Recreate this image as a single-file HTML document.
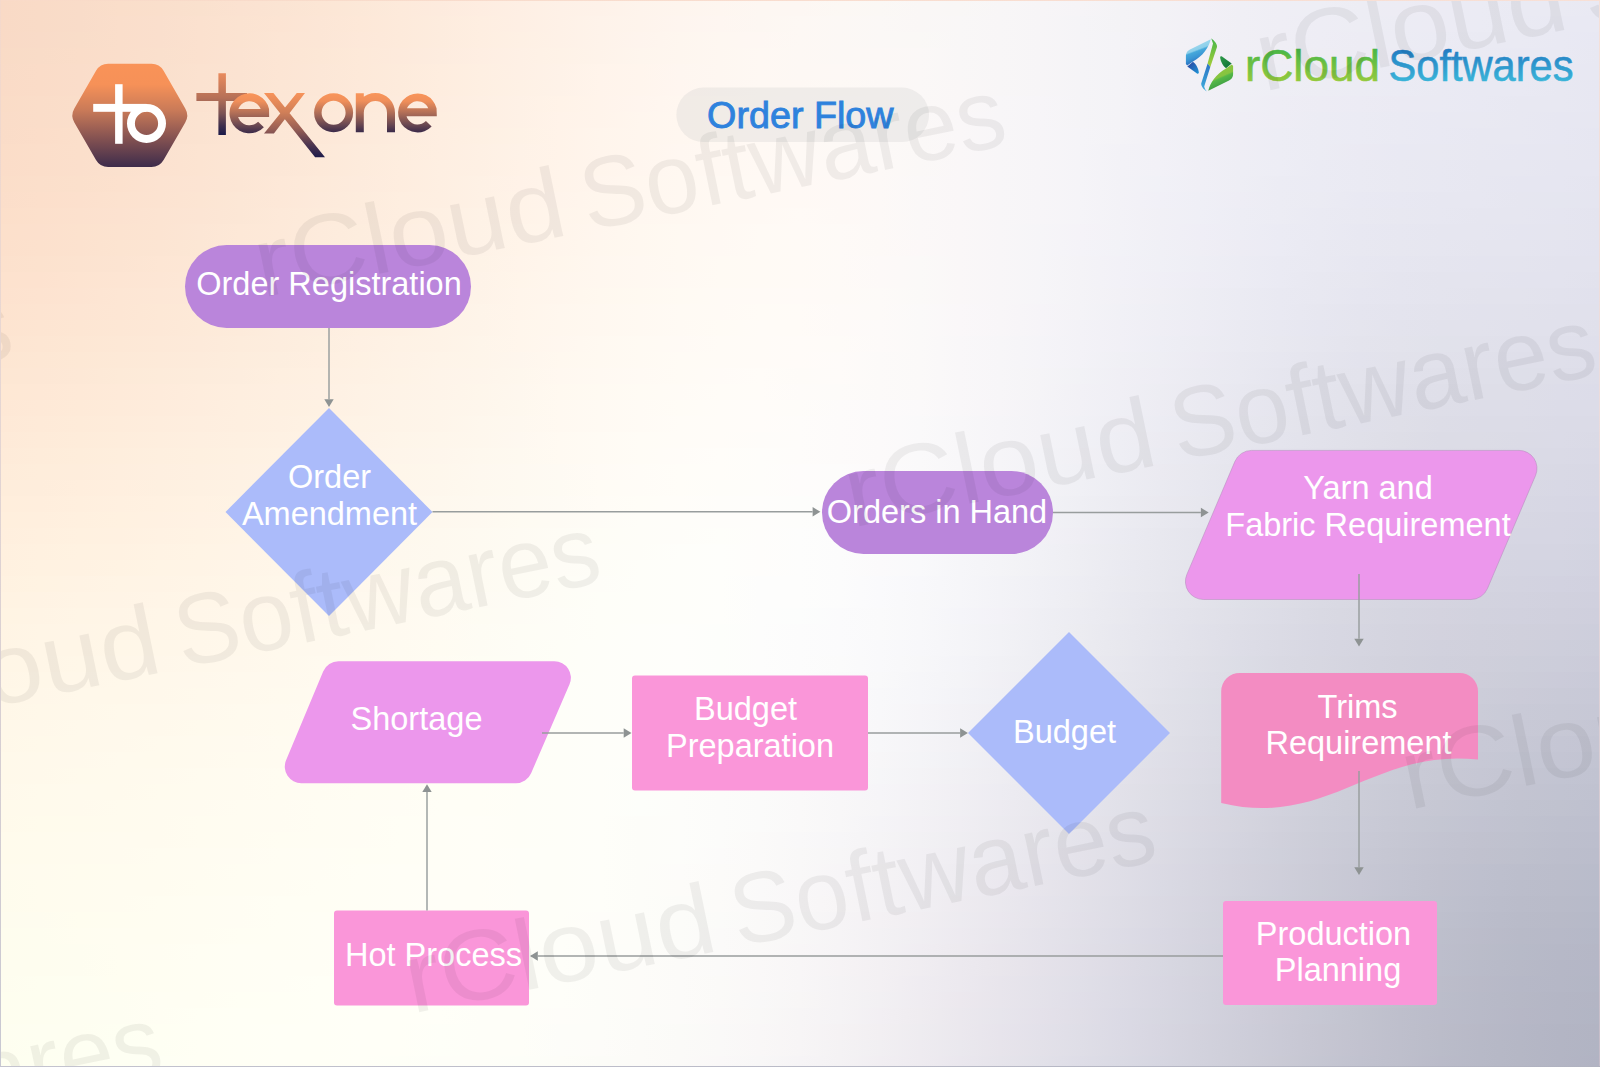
<!DOCTYPE html>
<html><head><meta charset="utf-8"><title>Order Flow</title>
<style>
html,body{margin:0;padding:0;}
body{width:1600px;height:1067px;overflow:hidden;font-family:"Liberation Sans",sans-serif;}
#bg{position:absolute;left:0;top:0;width:1600px;height:1067px;background:linear-gradient(90deg,#f9dac6 0px,#f9dbc7 40px,#f9dcc9 80px,#fadeca 120px,#fadfcc 160px,#fae1ce 200px,#fbe2d1 240px,#fbe4d3 280px,#fce6d5 320px,#fce8d8 360px,#fdeadb 400px,#fdebde 440px,#feede1 480px,#feefe4 520px,#fef1e7 560px,#fef2e9 600px,#fef4ec 640px,#fef5ee 680px,#fef6f0 720px,#fdf7f2 760px,#fdf7f3 800px,#fcf8f4 840px,#fbf8f5 880px,#faf7f6 920px,#f9f7f6 960px,#f8f6f7 1000px,#f7f5f7 1040px,#f6f4f7 1080px,#f4f3f6 1120px,#f3f2f6 1160px,#f2f0f6 1200px,#f0eff5 1240px,#efeef5 1280px,#eeeef5 1320px,#ededf4 1360px,#edecf4 1400px,#ecebf4 1440px,#ebebf4 1480px,#eaeaf3 1520px,#eaeaf3 1560px,#e9e9f3 1600px) 0 0px/1600px 16px no-repeat,
linear-gradient(90deg,#f9dac6 0px,#f9dbc7 40px,#f9dcc9 80px,#fadecb 120px,#fadfcd 160px,#fbe1cf 200px,#fbe3d1 240px,#fce4d3 280px,#fce6d6 320px,#fde8d8 360px,#fdeadb 400px,#fdecde 440px,#feeee1 480px,#feefe4 520px,#fef1e7 560px,#fef3ea 600px,#fef4ec 640px,#fef5ef 680px,#fef6f1 720px,#fdf7f2 760px,#fdf8f4 800px,#fcf8f5 840px,#fbf8f6 880px,#faf7f6 920px,#f9f7f7 960px,#f8f6f7 1000px,#f7f5f7 1040px,#f5f4f7 1080px,#f4f3f6 1120px,#f3f2f6 1160px,#f2f0f6 1200px,#f0eff5 1240px,#efeef5 1280px,#eeedf5 1320px,#ededf4 1360px,#ececf4 1400px,#ecebf4 1440px,#ebebf4 1480px,#eaeaf3 1520px,#e9e9f3 1560px,#e9e9f3 1600px) 0 16px/1600px 16px no-repeat,
linear-gradient(90deg,#f9dac6 0px,#f9dbc8 40px,#f9ddc9 80px,#fadecb 120px,#fadfcd 160px,#fbe1cf 200px,#fbe3d1 240px,#fce5d4 280px,#fce6d6 320px,#fde8d9 360px,#fdeadb 400px,#fdecde 440px,#feeee1 480px,#fef0e4 520px,#fef1e7 560px,#fef3ea 600px,#fef4ed 640px,#fef6ef 680px,#fef7f1 720px,#fef7f3 760px,#fdf8f4 800px,#fcf8f5 840px,#fbf8f6 880px,#faf8f6 920px,#f9f7f7 960px,#f8f6f7 1000px,#f7f5f7 1040px,#f5f4f7 1080px,#f4f3f7 1120px,#f3f2f6 1160px,#f1f0f6 1200px,#f0eff5 1240px,#efeef5 1280px,#eeedf5 1320px,#edecf4 1360px,#ececf4 1400px,#ebebf4 1440px,#eaeaf3 1480px,#eaeaf3 1520px,#e9e9f3 1560px,#e8e8f3 1600px) 0 32px/1600px 16px no-repeat,
linear-gradient(90deg,#f9dbc6 0px,#f9dcc8 40px,#faddc9 80px,#fadecb 120px,#fae0cd 160px,#fbe1cf 200px,#fbe3d2 240px,#fce5d4 280px,#fce7d6 320px,#fde9d9 360px,#fdeadc 400px,#fdecdf 440px,#feeee2 480px,#fef0e5 520px,#fef2e7 560px,#fef3ea 600px,#fef5ed 640px,#fef6ef 680px,#fef7f1 720px,#fef8f3 760px,#fdf8f4 800px,#fcf8f5 840px,#fcf8f6 880px,#fbf8f7 920px,#f9f7f7 960px,#f8f6f7 1000px,#f7f5f7 1040px,#f5f4f7 1080px,#f4f3f7 1120px,#f3f1f6 1160px,#f1f0f6 1200px,#f0eff5 1240px,#efeef5 1280px,#eeedf4 1320px,#edecf4 1360px,#ecebf4 1400px,#ebebf4 1440px,#eaeaf3 1480px,#e9e9f3 1520px,#e9e9f3 1560px,#e8e8f2 1600px) 0 48px/1600px 16px no-repeat,
linear-gradient(90deg,#f9dbc7 0px,#fadcc8 40px,#faddca 80px,#fadfcc 120px,#fae0cd 160px,#fbe2d0 200px,#fbe3d2 240px,#fce5d4 280px,#fce7d7 320px,#fde9d9 360px,#fdebdc 400px,#feeddf 440px,#feefe2 480px,#fef0e5 520px,#fef2e8 560px,#fff4eb 600px,#fff5ed 640px,#fef6f0 680px,#fef7f1 720px,#fef8f3 760px,#fdf8f4 800px,#fdf8f5 840px,#fcf8f6 880px,#fbf8f7 920px,#f9f7f7 960px,#f8f6f7 1000px,#f7f5f7 1040px,#f5f4f7 1080px,#f4f3f7 1120px,#f2f1f6 1160px,#f1f0f6 1200px,#f0eff5 1240px,#eeeef5 1280px,#ededf4 1320px,#ececf4 1360px,#ebebf4 1400px,#ebeaf3 1440px,#eaeaf3 1480px,#e9e9f3 1520px,#e8e8f3 1560px,#e8e8f2 1600px) 0 64px/1600px 16px no-repeat,
linear-gradient(90deg,#fadbc7 0px,#fadcc8 40px,#faddca 80px,#fadfcc 120px,#fbe0ce 160px,#fbe2d0 200px,#fbe4d2 240px,#fce6d5 280px,#fce7d7 320px,#fde9da 360px,#fdebdc 400px,#feeddf 440px,#feefe2 480px,#fef1e5 520px,#fef2e8 560px,#fff4eb 600px,#fff5ed 640px,#fff6f0 680px,#fef7f2 720px,#fef8f3 760px,#fef8f4 800px,#fdf9f5 840px,#fcf8f6 880px,#fbf8f7 920px,#faf7f7 960px,#f8f6f7 1000px,#f7f5f7 1040px,#f5f4f7 1080px,#f4f3f7 1120px,#f2f1f6 1160px,#f1f0f6 1200px,#efeff5 1240px,#eeeef5 1280px,#ededf4 1320px,#ececf4 1360px,#ebebf4 1400px,#eaeaf3 1440px,#e9e9f3 1480px,#e9e9f3 1520px,#e8e8f2 1560px,#e7e7f2 1600px) 0 80px/1600px 16px no-repeat,
linear-gradient(90deg,#fadcc7 0px,#faddc9 40px,#fadeca 80px,#fadfcc 120px,#fbe1ce 160px,#fbe2d0 200px,#fce4d3 240px,#fce6d5 280px,#fce8d8 320px,#fdeada 360px,#fdebdd 400px,#feede0 440px,#feefe3 480px,#fef1e6 520px,#fff3e8 560px,#fff4eb 600px,#fff5ee 640px,#fff7f0 680px,#fff8f2 720px,#fef8f3 760px,#fef9f5 800px,#fdf9f6 840px,#fcf8f6 880px,#fbf8f7 920px,#faf7f7 960px,#f8f6f8 1000px,#f7f5f8 1040px,#f5f4f7 1080px,#f4f3f7 1120px,#f2f1f7 1160px,#f1f0f6 1200px,#efeff5 1240px,#eeedf5 1280px,#edecf4 1320px,#ecebf4 1360px,#ebeaf3 1400px,#eaeaf3 1440px,#e9e9f3 1480px,#e8e8f2 1520px,#e8e8f2 1560px,#e7e7f2 1600px) 0 96px/1600px 16px no-repeat,
linear-gradient(90deg,#fadcc8 0px,#faddc9 40px,#fadecb 80px,#fbe0cd 120px,#fbe1cf 160px,#fbe3d1 200px,#fce4d3 240px,#fce6d5 280px,#fde8d8 320px,#fdeadb 360px,#fdecdd 400px,#feeee0 440px,#feefe3 480px,#fef1e6 520px,#fff3e9 560px,#fff4eb 600px,#fff6ee 640px,#fff7f0 680px,#fff8f2 720px,#fef8f3 760px,#fef9f5 800px,#fdf9f6 840px,#fcf9f7 880px,#fbf8f7 920px,#faf7f8 960px,#f8f6f8 1000px,#f7f5f8 1040px,#f5f4f7 1080px,#f4f3f7 1120px,#f2f1f7 1160px,#f1f0f6 1200px,#efeef5 1240px,#eeedf5 1280px,#ececf4 1320px,#ebebf4 1360px,#eaeaf3 1400px,#e9e9f3 1440px,#e9e9f2 1480px,#e8e8f2 1520px,#e7e7f2 1560px,#e7e7f1 1600px) 0 112px/1600px 16px no-repeat,
linear-gradient(90deg,#fadcc8 0px,#fbddc9 40px,#fbdfcb 80px,#fbe0cd 120px,#fbe1cf 160px,#fbe3d1 200px,#fce5d4 240px,#fce7d6 280px,#fde8d8 320px,#fdeadb 360px,#fdecde 400px,#feeee1 440px,#fef0e3 480px,#fef2e6 520px,#fff3e9 560px,#fff5ec 600px,#fff6ee 640px,#fff7f0 680px,#fff8f2 720px,#fff9f4 760px,#fef9f5 800px,#fdf9f6 840px,#fcf9f7 880px,#fbf8f7 920px,#faf7f8 960px,#f8f6f8 1000px,#f7f5f8 1040px,#f5f4f8 1080px,#f4f3f7 1120px,#f2f1f7 1160px,#f0f0f6 1200px,#efeef5 1240px,#ededf5 1280px,#ececf4 1320px,#ebebf4 1360px,#eaeaf3 1400px,#e9e9f3 1440px,#e8e8f2 1480px,#e8e8f2 1520px,#e7e7f2 1560px,#e6e6f1 1600px) 0 128px/1600px 16px no-repeat,
linear-gradient(90deg,#fbddc8 0px,#fbdeca 40px,#fbdfcb 80px,#fbe0cd 120px,#fbe2d0 160px,#fce4d2 200px,#fce5d4 240px,#fce7d6 280px,#fde9d9 320px,#fdebdc 360px,#fdedde 400px,#feeee1 440px,#fef0e4 480px,#fef2e7 520px,#fff3e9 560px,#fff5ec 600px,#fff6ee 640px,#fff7f1 680px,#fff8f2 720px,#fff9f4 760px,#fef9f5 800px,#fdf9f6 840px,#fcf9f7 880px,#fbf8f7 920px,#faf7f8 960px,#f8f6f8 1000px,#f7f5f8 1040px,#f5f4f8 1080px,#f3f2f7 1120px,#f2f1f7 1160px,#f0f0f6 1200px,#efeef5 1240px,#ededf5 1280px,#ececf4 1320px,#ebeaf3 1360px,#e9e9f3 1400px,#e9e9f2 1440px,#e8e8f2 1480px,#e7e7f2 1520px,#e7e7f1 1560px,#e6e6f1 1600px) 0 144px/1600px 16px no-repeat,
linear-gradient(90deg,#fbddc9 0px,#fbdeca 40px,#fbdfcc 80px,#fbe1ce 120px,#fce2d0 160px,#fce4d2 200px,#fce6d5 240px,#fce7d7 280px,#fde9d9 320px,#fdebdc 360px,#feeddf 400px,#feefe2 440px,#fef0e4 480px,#fff2e7 520px,#fff4ea 560px,#fff5ec 600px,#fff6ef 640px,#fff8f1 680px,#fff8f2 720px,#fff9f4 760px,#fef9f5 800px,#fef9f6 840px,#fdf9f7 880px,#fbf8f7 920px,#faf7f8 960px,#f8f6f8 1000px,#f7f5f8 1040px,#f5f4f8 1080px,#f3f2f7 1120px,#f2f1f7 1160px,#f0eff6 1200px,#eeeef5 1240px,#ededf5 1280px,#ebebf4 1320px,#eaeaf3 1360px,#e9e9f2 1400px,#e8e8f2 1440px,#e7e7f1 1480px,#e7e7f1 1520px,#e6e6f1 1560px,#e6e6f1 1600px) 0 160px/1600px 16px no-repeat,
linear-gradient(90deg,#fbdec9 0px,#fbdfcb 40px,#fbe0cc 80px,#fce1ce 120px,#fce3d1 160px,#fce4d3 200px,#fce6d5 240px,#fde8d8 280px,#fdeada 320px,#fdebdd 360px,#feeddf 400px,#feefe2 440px,#fef1e5 480px,#fff2e8 520px,#fff4ea 560px,#fff5ed 600px,#fff7ef 640px,#fff8f1 680px,#fff9f3 720px,#fff9f4 760px,#fff9f5 800px,#fef9f6 840px,#fdf9f7 880px,#fbf8f8 920px,#faf7f8 960px,#f8f6f8 1000px,#f7f5f8 1040px,#f5f4f8 1080px,#f3f2f7 1120px,#f1f1f7 1160px,#f0eff6 1200px,#eeeef5 1240px,#ececf4 1280px,#ebebf4 1320px,#eaeaf3 1360px,#e9e9f2 1400px,#e8e8f2 1440px,#e7e7f1 1480px,#e6e6f1 1520px,#e6e6f1 1560px,#e5e5f0 1600px) 0 176px/1600px 16px no-repeat,
linear-gradient(90deg,#fbdeca 0px,#fcdfcb 40px,#fce0cd 80px,#fce2cf 120px,#fce3d1 160px,#fce5d3 200px,#fce7d6 240px,#fde8d8 280px,#fdeadb 320px,#fdecdd 360px,#feeee0 400px,#feefe2 440px,#fef1e5 480px,#fff3e8 520px,#fff4eb 560px,#fff6ed 600px,#fff7ef 640px,#fff8f1 680px,#fff9f3 720px,#fff9f4 760px,#fff9f5 800px,#fef9f6 840px,#fdf9f7 880px,#fbf8f8 920px,#faf7f8 960px,#f8f6f8 1000px,#f7f5f8 1040px,#f5f4f8 1080px,#f3f2f7 1120px,#f1f0f7 1160px,#efeff6 1200px,#eeedf5 1240px,#ececf4 1280px,#ebebf3 1320px,#e9e9f3 1360px,#e8e8f2 1400px,#e7e7f1 1440px,#e7e7f1 1480px,#e6e6f0 1520px,#e5e6f0 1560px,#e5e5f0 1600px) 0 192px/1600px 16px no-repeat,
linear-gradient(90deg,#fcdfca 0px,#fce0cc 40px,#fce1ce 80px,#fce2d0 120px,#fce4d2 160px,#fce5d4 200px,#fce7d6 240px,#fde9d9 280px,#fdebdb 320px,#fdecde 360px,#feeee0 400px,#fef0e3 440px,#fef2e6 480px,#fff3e8 520px,#fff5eb 560px,#fff6ed 600px,#fff7f0 640px,#fff8f1 680px,#fff9f3 720px,#fff9f4 760px,#fffaf6 800px,#fef9f6 840px,#fdf9f7 880px,#fbf8f8 920px,#faf7f8 960px,#f8f6f8 1000px,#f7f5f8 1040px,#f5f4f8 1080px,#f3f2f7 1120px,#f1f0f6 1160px,#efeff6 1200px,#ededf5 1240px,#ececf4 1280px,#eaeaf3 1320px,#e9e9f2 1360px,#e8e8f1 1400px,#e7e7f1 1440px,#e6e6f0 1480px,#e6e6f0 1520px,#e5e5f0 1560px,#e4e4ef 1600px) 0 208px/1600px 16px no-repeat,
linear-gradient(90deg,#fce0cb 0px,#fce0cd 40px,#fce2ce 80px,#fce3d0 120px,#fce4d2 160px,#fce6d5 200px,#fde8d7 240px,#fde9d9 280px,#fdebdc 320px,#fdedde 360px,#feeee1 400px,#fef0e4 440px,#fef2e6 480px,#fff4e9 520px,#fff5eb 560px,#fff6ee 600px,#fff8f0 640px,#fff9f2 680px,#fff9f3 720px,#fffaf5 760px,#fffaf6 800px,#fefaf7 840px,#fdf9f7 880px,#fbf8f8 920px,#faf7f8 960px,#f8f6f8 1000px,#f6f5f8 1040px,#f5f3f8 1080px,#f3f2f7 1120px,#f1f0f6 1160px,#efeef6 1200px,#ededf5 1240px,#ebebf4 1280px,#eaeaf3 1320px,#e8e8f2 1360px,#e7e7f1 1400px,#e6e6f0 1440px,#e6e6f0 1480px,#e5e5f0 1520px,#e5e5ef 1560px,#e4e4ef 1600px) 0 224px/1600px 16px no-repeat,
linear-gradient(90deg,#fce0cc 0px,#fce1cd 40px,#fce2cf 80px,#fce4d1 120px,#fce5d3 160px,#fce7d5 200px,#fde8d8 240px,#fdeada 280px,#fdecdc 320px,#fdeddf 360px,#feefe1 400px,#fef1e4 440px,#fef2e7 480px,#fff4e9 520px,#fff5ec 560px,#fff7ee 600px,#fff8f0 640px,#fff9f2 680px,#fff9f4 720px,#fffaf5 760px,#fffaf6 800px,#fefaf7 840px,#fdf9f7 880px,#fcf8f8 920px,#faf7f8 960px,#f8f6f8 1000px,#f6f5f8 1040px,#f4f3f8 1080px,#f2f2f7 1120px,#f0f0f6 1160px,#efeef5 1200px,#edecf4 1240px,#ebebf4 1280px,#e9e9f2 1320px,#e8e8f1 1360px,#e7e7f0 1400px,#e6e6f0 1440px,#e5e5ef 1480px,#e5e5ef 1520px,#e4e4ef 1560px,#e3e3ef 1600px) 0 240px/1600px 16px no-repeat,
linear-gradient(90deg,#fce1cd 0px,#fce2ce 40px,#fce3d0 80px,#fce4d2 120px,#fde6d4 160px,#fde7d6 200px,#fde9d8 240px,#fdeadb 280px,#fdecdd 320px,#fdeedf 360px,#feefe2 400px,#fef1e5 440px,#fef3e7 480px,#fff4ea 520px,#fff6ec 560px,#fff7ef 600px,#fff8f1 640px,#fff9f2 680px,#fffaf4 720px,#fffaf5 760px,#fffaf6 800px,#fefaf7 840px,#fdf9f8 880px,#fbf9f8 920px,#faf7f8 960px,#f8f6f8 1000px,#f6f5f8 1040px,#f4f3f7 1080px,#f2f1f7 1120px,#f0f0f6 1160px,#eeeef5 1200px,#ececf4 1240px,#eaeaf3 1280px,#e9e9f2 1320px,#e7e7f1 1360px,#e6e6f0 1400px,#e5e5ef 1440px,#e4e4ef 1480px,#e4e4ee 1520px,#e3e3ee 1560px,#e3e3ee 1600px) 0 256px/1600px 16px no-repeat,
linear-gradient(90deg,#fde2ce 0px,#fde2cf 40px,#fde4d1 80px,#fde5d3 120px,#fde6d5 160px,#fde8d7 200px,#fde9d9 240px,#fdebdb 280px,#fdedde 320px,#fdeee0 360px,#fef0e3 400px,#fef1e5 440px,#fef3e8 480px,#fff5ea 520px,#fff6ed 560px,#fff7ef 600px,#fff8f1 640px,#fff9f3 680px,#fffaf4 720px,#fffaf5 760px,#fffaf6 800px,#fefaf7 840px,#fdf9f8 880px,#fbf9f8 920px,#faf7f8 960px,#f8f6f8 1000px,#f6f5f8 1040px,#f4f3f7 1080px,#f2f1f7 1120px,#f0eff6 1160px,#eeedf5 1200px,#ececf4 1240px,#eaeaf3 1280px,#e8e8f1 1320px,#e7e7f0 1360px,#e5e5ef 1400px,#e4e4ee 1440px,#e4e4ee 1480px,#e3e3ee 1520px,#e3e3ee 1560px,#e2e2ed 1600px) 0 272px/1600px 16px no-repeat,
linear-gradient(90deg,#fde2cf 0px,#fde3d0 40px,#fde4d2 80px,#fde6d4 120px,#fde7d6 160px,#fde8d8 200px,#fdeada 240px,#fdecdc 280px,#fdedde 320px,#feefe1 360px,#fef0e3 400px,#fef2e6 440px,#fef3e8 480px,#fff5eb 520px,#fff6ed 560px,#fff8ef 600px,#fff9f1 640px,#fffaf3 680px,#fffaf5 720px,#fffaf6 760px,#fffaf7 800px,#fefaf7 840px,#fdfaf8 880px,#fbf9f8 920px,#faf7f8 960px,#f8f6f8 1000px,#f6f5f8 1040px,#f4f3f7 1080px,#f2f1f6 1120px,#f0eff5 1160px,#ededf4 1200px,#ebebf3 1240px,#e9e9f2 1280px,#e8e8f1 1320px,#e6e6f0 1360px,#e5e5ef 1400px,#e4e4ee 1440px,#e3e3ed 1480px,#e3e3ed 1520px,#e2e2ed 1560px,#e1e1ed 1600px) 0 288px/1600px 16px no-repeat,
linear-gradient(90deg,#fde3cf 0px,#fde4d1 40px,#fde5d3 80px,#fde6d4 120px,#fde8d6 160px,#fde9d8 200px,#fdebdb 240px,#fdecdd 280px,#fdeedf 320px,#feefe1 360px,#fef1e4 400px,#fef2e6 440px,#fef4e9 480px,#fff5eb 520px,#fff7ee 560px,#fff8f0 600px,#fff9f2 640px,#fffaf4 680px,#fffaf5 720px,#fffbf6 760px,#fffbf7 800px,#fefaf8 840px,#fdfaf8 880px,#fbf9f9 920px,#faf7f9 960px,#f8f6f8 1000px,#f6f4f8 1040px,#f4f3f7 1080px,#f1f1f6 1120px,#efeff5 1160px,#ededf4 1200px,#ebebf3 1240px,#e9e9f2 1280px,#e7e7f0 1320px,#e5e5ef 1360px,#e4e4ee 1400px,#e3e3ed 1440px,#e2e2ed 1480px,#e2e2ec 1520px,#e1e1ec 1560px,#e1e1ec 1600px) 0 304px/1600px 16px no-repeat,
linear-gradient(90deg,#fde4d0 0px,#fde5d2 40px,#fde6d3 80px,#fde7d5 120px,#fde8d7 160px,#fdead9 200px,#fdebdb 240px,#fdedde 280px,#fdeee0 320px,#fef0e2 360px,#fef1e4 400px,#fef3e7 440px,#fef4e9 480px,#fff6ec 520px,#fff7ee 560px,#fff8f0 600px,#fff9f2 640px,#fffaf4 680px,#fffbf5 720px,#fffbf7 760px,#fffbf7 800px,#fefaf8 840px,#fdfaf9 880px,#fbf9f9 920px,#faf7f9 960px,#f8f6f8 1000px,#f6f4f8 1040px,#f3f2f7 1080px,#f1f0f6 1120px,#efeef5 1160px,#edecf4 1200px,#eaeaf2 1240px,#e8e8f1 1280px,#e6e6f0 1320px,#e5e5ee 1360px,#e3e3ed 1400px,#e2e2ec 1440px,#e2e2ec 1480px,#e1e1ec 1520px,#e1e1ec 1560px,#e0e0eb 1600px) 0 320px/1600px 16px no-repeat,
linear-gradient(90deg,#fde5d1 0px,#fde6d3 40px,#fde7d4 80px,#fde8d6 120px,#fde9d8 160px,#fdeada 200px,#fdecdc 240px,#fdedde 280px,#fdefe0 320px,#fef0e3 360px,#fef2e5 400px,#fef3e7 440px,#fef5ea 480px,#fff6ec 520px,#fff7ef 560px,#fff9f1 600px,#fffaf3 640px,#fffaf5 680px,#fffbf6 720px,#fffbf7 760px,#fffbf8 800px,#fefbf8 840px,#fdfaf9 880px,#fbf9f9 920px,#f9f7f9 960px,#f7f6f8 1000px,#f5f4f8 1040px,#f3f2f7 1080px,#f1f0f6 1120px,#eeeef5 1160px,#ececf3 1200px,#eaeaf2 1240px,#e8e8f0 1280px,#e6e6ef 1320px,#e4e4ed 1360px,#e3e3ec 1400px,#e1e2eb 1440px,#e1e1eb 1480px,#e0e0eb 1520px,#e0e0eb 1560px,#dfdfeb 1600px) 0 336px/1600px 16px no-repeat,
linear-gradient(90deg,#fde6d2 0px,#fde7d4 40px,#fde8d5 80px,#fde9d7 120px,#fdead9 160px,#fdebdb 200px,#fdeddd 240px,#fdeedf 280px,#feefe1 320px,#fef1e3 360px,#fef2e6 400px,#fef4e8 440px,#fef5ea 480px,#fef6ed 520px,#fff8ef 560px,#fff9f1 600px,#fffaf3 640px,#fffbf5 680px,#fffbf6 720px,#fffbf7 760px,#fffbf8 800px,#fefbf9 840px,#fcfaf9 880px,#fbf9f9 920px,#f9f7f9 960px,#f7f6f8 1000px,#f5f4f8 1040px,#f3f2f7 1080px,#f0f0f5 1120px,#eeeef4 1160px,#ecebf3 1200px,#e9e9f1 1240px,#e7e7f0 1280px,#e5e5ee 1320px,#e3e3ed 1360px,#e2e2eb 1400px,#e1e1eb 1440px,#e0e0ea 1480px,#dfdfea 1520px,#dfdfea 1560px,#dedeea 1600px) 0 352px/1600px 16px no-repeat,
linear-gradient(90deg,#fde7d3 0px,#fde7d5 40px,#fde8d6 80px,#fdead8 120px,#fdebda 160px,#fdecdc 200px,#fdedde 240px,#feefe0 280px,#fef0e2 320px,#fef1e4 360px,#fef3e6 400px,#fef4e9 440px,#fef5eb 480px,#fef7ed 520px,#fff8f0 560px,#fff9f2 600px,#fffaf4 640px,#fffbf5 680px,#fffbf7 720px,#fffcf8 760px,#fefbf8 800px,#fefbf9 840px,#fcfaf9 880px,#fbf9f9 920px,#f9f7f9 960px,#f7f6f8 1000px,#f5f4f7 1040px,#f2f2f6 1080px,#f0eff5 1120px,#eeedf4 1160px,#ebebf2 1200px,#e9e9f1 1240px,#e6e6ef 1280px,#e4e4ed 1320px,#e3e3ec 1360px,#e1e1eb 1400px,#e0e0ea 1440px,#dfdfe9 1480px,#dedfe9 1520px,#dedee9 1560px,#dddde9 1600px) 0 368px/1600px 16px no-repeat,
linear-gradient(90deg,#fee8d4 0px,#fee8d6 40px,#fee9d7 80px,#feead9 120px,#feebdb 160px,#feeddd 200px,#feeedf 240px,#feefe1 280px,#fef0e3 320px,#fef2e5 360px,#fef3e7 400px,#fef4e9 440px,#fef6eb 480px,#fef7ee 520px,#fff9f0 560px,#fffaf2 600px,#fffbf4 640px,#fffbf6 680px,#fffcf7 720px,#fffcf8 760px,#fefbf9 800px,#fdfbf9 840px,#fcfaf9 880px,#fbf9f9 920px,#f9f7f9 960px,#f7f6f8 1000px,#f5f4f7 1040px,#f2f1f6 1080px,#f0eff5 1120px,#ededf3 1160px,#ebeaf2 1200px,#e8e8f0 1240px,#e6e6ee 1280px,#e4e4ed 1320px,#e2e2eb 1360px,#e0e0ea 1400px,#dfdfe9 1440px,#dedee8 1480px,#dedee8 1520px,#dddde9 1560px,#dcdce9 1600px) 0 384px/1600px 16px no-repeat,
linear-gradient(90deg,#fee8d6 0px,#fee9d7 40px,#feead8 80px,#feebda 120px,#feecdc 160px,#feedde 200px,#feefe0 240px,#fef0e1 280px,#fef1e3 320px,#fef2e5 360px,#fef4e8 400px,#fef5ea 440px,#fef6ec 480px,#fef8ee 520px,#fff9f1 560px,#fffaf3 600px,#fffbf5 640px,#fffcf6 680px,#fffcf8 720px,#fffcf9 760px,#fefcf9 800px,#fdfbfa 840px,#fcfafa 880px,#fbf9fa 920px,#f9f7f9 960px,#f7f5f8 1000px,#f4f3f7 1040px,#f2f1f6 1080px,#efeff5 1120px,#edecf3 1160px,#eaeaf1 1200px,#e8e7f0 1240px,#e5e5ee 1280px,#e3e3ec 1320px,#e1e1ea 1360px,#dfdfe9 1400px,#dedee8 1440px,#dddde8 1480px,#dddde8 1520px,#dcdce8 1560px,#dcdce8 1600px) 0 400px/1600px 16px no-repeat,
linear-gradient(90deg,#fee9d7 0px,#feead8 40px,#feebd9 80px,#feecdb 120px,#feeddd 160px,#feeedf 200px,#feefe0 240px,#fef0e2 280px,#fef2e4 320px,#fef3e6 360px,#fef4e8 400px,#fef5ea 440px,#fef7ed 480px,#fef8ef 520px,#fff9f1 560px,#fffaf3 600px,#fffbf5 640px,#fffcf7 680px,#fffcf8 720px,#fffcf9 760px,#fefcfa 800px,#fdfbfa 840px,#fcfafa 880px,#faf9fa 920px,#f8f7f9 960px,#f6f5f8 1000px,#f4f3f7 1040px,#f1f1f6 1080px,#efeef4 1120px,#ececf3 1160px,#e9e9f1 1200px,#e7e7ef 1240px,#e5e5ed 1280px,#e2e2eb 1320px,#e0e0ea 1360px,#dfdfe8 1400px,#dddde7 1440px,#dcdce7 1480px,#dcdce7 1520px,#dbdbe7 1560px,#dbdbe7 1600px) 0 416px/1600px 16px no-repeat,
linear-gradient(90deg,#feead8 0px,#feebd9 40px,#feecda 80px,#feeddc 120px,#feeede 160px,#feefe0 200px,#fef0e1 240px,#fef1e3 280px,#fef2e5 320px,#fef3e7 360px,#fef5e9 400px,#fef6eb 440px,#fef7ed 480px,#fef8f0 520px,#fffaf2 560px,#fffbf4 600px,#fffcf6 640px,#fffcf7 680px,#fffcf8 720px,#fefcf9 760px,#fefcfa 800px,#fdfbfa 840px,#fcfafa 880px,#faf9fa 920px,#f8f7f9 960px,#f6f5f8 1000px,#f4f3f7 1040px,#f1f1f6 1080px,#eeeef4 1120px,#ecebf2 1160px,#e9e9f0 1200px,#e6e6ee 1240px,#e4e4ed 1280px,#e2e2eb 1320px,#e0e0e9 1360px,#dedee7 1400px,#dcdce6 1440px,#dcdce6 1480px,#dbdbe6 1520px,#dbdbe7 1560px,#dadae6 1600px) 0 432px/1600px 16px no-repeat,
linear-gradient(90deg,#feebd9 0px,#feecda 40px,#feeddb 80px,#feeedd 120px,#feefdf 160px,#fef0e0 200px,#fef1e2 240px,#fef2e4 280px,#fef3e6 320px,#fef4e8 360px,#fef5ea 400px,#fef6ec 440px,#fef8ee 480px,#fef9f0 520px,#fffaf2 560px,#fffbf4 600px,#fffcf6 640px,#fffcf8 680px,#fffdf9 720px,#fefdfa 760px,#fefcfa 800px,#fdfbfa 840px,#fcfafa 880px,#faf9fa 920px,#f8f7f9 960px,#f6f5f8 1000px,#f3f3f7 1040px,#f1f0f5 1080px,#eeeef4 1120px,#ebebf2 1160px,#e8e8f0 1200px,#e6e6ee 1240px,#e3e3ec 1280px,#e1e1ea 1320px,#dfdfe8 1360px,#dddde7 1400px,#dcdce6 1440px,#dbdbe5 1480px,#dadae6 1520px,#dadae6 1560px,#d9d9e6 1600px) 0 448px/1600px 16px no-repeat,
linear-gradient(90deg,#feecda 0px,#feeddb 40px,#feeddc 80px,#feeede 120px,#feefe0 160px,#fef0e1 200px,#fef1e3 240px,#fef2e5 280px,#fef3e6 320px,#fef5e8 360px,#fef6ea 400px,#fef7ec 440px,#fef8ef 480px,#fef9f1 520px,#fefaf3 560px,#fffbf5 600px,#fffcf7 640px,#fffdf8 680px,#fffdf9 720px,#fefdfa 760px,#fefcfb 800px,#fdfcfb 840px,#fcfafb 880px,#faf9fa 920px,#f8f7f9 960px,#f6f5f8 1000px,#f3f3f7 1040px,#f0f0f5 1080px,#ededf3 1120px,#ebeaf1 1160px,#e8e8ef 1200px,#e5e5ed 1240px,#e2e2eb 1280px,#e0e0e9 1320px,#dedee8 1360px,#dcdce6 1400px,#dbdbe5 1440px,#dadae5 1480px,#dadae5 1520px,#d9d9e5 1560px,#d8d8e5 1600px) 0 464px/1600px 16px no-repeat,
linear-gradient(90deg,#feeddb 0px,#feeddc 40px,#ffeedd 80px,#ffefdf 120px,#fef0e0 160px,#fef1e2 200px,#fef2e4 240px,#fef3e5 280px,#fef4e7 320px,#fef5e9 360px,#fef6eb 400px,#fef7ed 440px,#fef9ef 480px,#fefaf1 520px,#fefbf3 560px,#fffcf5 600px,#fffcf7 640px,#fffdf8 680px,#fefdf9 720px,#fefdfa 760px,#fefcfb 800px,#fdfcfb 840px,#fbfafb 880px,#faf9fa 920px,#f8f7f9 960px,#f5f5f8 1000px,#f3f2f6 1040px,#f0f0f5 1080px,#ededf3 1120px,#eaeaf1 1160px,#e7e7ef 1200px,#e4e4ed 1240px,#e2e2eb 1280px,#dfdfe9 1320px,#dddde7 1360px,#dcdce5 1400px,#dadae5 1440px,#d9d9e4 1480px,#d9d9e4 1520px,#d8d8e5 1560px,#d7d7e4 1600px) 0 480px/1600px 16px no-repeat,
linear-gradient(90deg,#ffeedc 0px,#ffeedd 40px,#ffefde 80px,#fff0e0 120px,#fff1e1 160px,#fff2e3 200px,#fef3e4 240px,#fef4e6 280px,#fef5e8 320px,#fef6ea 360px,#fef7ec 400px,#fef8ee 440px,#fef9f0 480px,#fefaf2 520px,#fefbf4 560px,#fffcf6 600px,#fffdf7 640px,#fffdf9 680px,#fefdfa 720px,#fefdfb 760px,#fdfdfb 800px,#fdfcfb 840px,#fbfafb 880px,#f9f9fa 920px,#f7f7f9 960px,#f5f5f8 1000px,#f2f2f6 1040px,#efeff4 1080px,#ececf2 1120px,#eae9f0 1160px,#e7e7ee 1200px,#e4e4ec 1240px,#e1e1ea 1280px,#dfdfe8 1320px,#dddde6 1360px,#dbdbe5 1400px,#dad9e4 1440px,#d9d9e4 1480px,#d8d8e4 1520px,#d7d7e4 1560px,#d6d6e4 1600px) 0 496px/1600px 16px no-repeat,
linear-gradient(90deg,#ffefdd 0px,#ffefde 40px,#fff0df 80px,#fff1e0 120px,#fff1e2 160px,#fff2e4 200px,#fff3e5 240px,#fef4e7 280px,#fef5e9 320px,#fef6ea 360px,#fef7ec 400px,#fef8ee 440px,#fef9f0 480px,#fefbf2 520px,#fefbf4 560px,#fefcf6 600px,#fefdf8 640px,#fefdf9 680px,#fefdfa 720px,#fefdfb 760px,#fdfdfb 800px,#fcfcfb 840px,#fbfafb 880px,#f9f9fa 920px,#f7f7f9 960px,#f5f4f8 1000px,#f2f2f6 1040px,#efeff4 1080px,#ececf2 1120px,#e9e9f0 1160px,#e6e6ee 1200px,#e3e3ec 1240px,#e0e0e9 1280px,#dedee7 1320px,#dcdce6 1360px,#dadae4 1400px,#d9d9e3 1440px,#d8d8e3 1480px,#d7d7e3 1520px,#d6d6e3 1560px,#d5d5e3 1600px) 0 512px/1600px 16px no-repeat,
linear-gradient(90deg,#ffefde 0px,#fff0df 40px,#fff1e0 80px,#fff1e1 120px,#fff2e3 160px,#fff3e4 200px,#fff4e6 240px,#fff5e8 280px,#fef6e9 320px,#fef7eb 360px,#fef8ed 400px,#fef9ef 440px,#fefaf1 480px,#fefbf3 520px,#fefcf5 560px,#fefdf6 600px,#fefdf8 640px,#fefdf9 680px,#fefefa 720px,#fefdfb 760px,#fdfdfc 800px,#fcfcfc 840px,#fbfafb 880px,#f9f9fb 920px,#f7f7f9 960px,#f4f4f8 1000px,#f2f1f6 1040px,#efeef4 1080px,#ebebf2 1120px,#e8e8ef 1160px,#e5e5ed 1200px,#e2e2eb 1240px,#e0e0e9 1280px,#dddde7 1320px,#dbdbe5 1360px,#d9d9e4 1400px,#d8d8e3 1440px,#d7d7e2 1480px,#d6d6e3 1520px,#d6d6e3 1560px,#d4d5e2 1600px) 0 528px/1600px 16px no-repeat,
linear-gradient(90deg,#fff0df 0px,#fff1e0 40px,#fff2e1 80px,#fff2e2 120px,#fff3e4 160px,#fff4e5 200px,#fff4e7 240px,#fff5e8 280px,#fff6ea 320px,#fef7ec 360px,#fef8ee 400px,#fef9ef 440px,#fefaf1 480px,#fefbf3 520px,#fefcf5 560px,#fefdf7 600px,#fefdf8 640px,#fefefa 680px,#fefefb 720px,#fefdfb 760px,#fdfdfc 800px,#fcfcfc 840px,#fbfafb 880px,#f9f9fb 920px,#f7f6f9 960px,#f4f4f8 1000px,#f1f1f6 1040px,#eeeef3 1080px,#ebebf1 1120px,#e8e8ef 1160px,#e5e5ed 1200px,#e2e2ea 1240px,#dfdfe8 1280px,#dcdce6 1320px,#dadae4 1360px,#d9d8e3 1400px,#d7d7e2 1440px,#d6d6e2 1480px,#d5d5e2 1520px,#d5d5e2 1560px,#d3d4e1 1600px) 0 544px/1600px 16px no-repeat,
linear-gradient(90deg,#fff1e0 0px,#fff2e1 40px,#fff2e2 80px,#fff3e3 120px,#fff4e5 160px,#fff4e6 200px,#fff5e8 240px,#fff6e9 280px,#fff7eb 320px,#fff8ec 360px,#fef9ee 400px,#fefaf0 440px,#fefbf2 480px,#fefcf4 520px,#fefcf6 560px,#fefdf7 600px,#fefef9 640px,#fefefa 680px,#fefefb 720px,#fefdfb 760px,#fdfdfc 800px,#fcfcfc 840px,#fbfafb 880px,#f9f9fb 920px,#f6f6f9 960px,#f4f4f7 1000px,#f1f1f5 1040px,#eeeef3 1080px,#eaeaf1 1120px,#e7e7ee 1160px,#e4e4ec 1200px,#e1e1ea 1240px,#dedee8 1280px,#dcdce5 1320px,#d9d9e4 1360px,#d8d8e2 1400px,#d6d6e1 1440px,#d5d5e1 1480px,#d4d4e1 1520px,#d3d4e1 1560px,#d2d2e0 1600px) 0 560px/1600px 16px no-repeat,
linear-gradient(90deg,#fff2e1 0px,#fff3e2 40px,#fff3e4 80px,#fff4e5 120px,#fff4e6 160px,#fff5e7 200px,#fff6e8 240px,#fff7ea 280px,#fff7eb 320px,#fff8ed 360px,#fff9ef 400px,#fefaf1 440px,#fefbf2 480px,#fefcf4 520px,#fefdf6 560px,#fefdf8 600px,#fefef9 640px,#fefefa 680px,#fefefb 720px,#fdfdfc 760px,#fdfdfc 800px,#fcfcfc 840px,#fafafc 880px,#f8f8fb 920px,#f6f6f9 960px,#f3f3f7 1000px,#f0f0f5 1040px,#ededf3 1080px,#eaeaf0 1120px,#e7e7ee 1160px,#e3e3eb 1200px,#e0e0e9 1240px,#dddde7 1280px,#dbdbe5 1320px,#d9d9e3 1360px,#d7d7e1 1400px,#d5d5e0 1440px,#d4d4e0 1480px,#d3d3e0 1520px,#d2d2e0 1560px,#d1d1df 1600px) 0 576px/1600px 16px no-repeat,
linear-gradient(90deg,#fff3e2 0px,#fff3e4 40px,#fff4e5 80px,#fff4e6 120px,#fff5e7 160px,#fff6e8 200px,#fff6e9 240px,#fff7eb 280px,#fff8ec 320px,#fff9ee 360px,#fffaef 400px,#fefaf1 440px,#fefbf3 480px,#fefcf5 520px,#fefdf6 560px,#fefef8 600px,#fefef9 640px,#fefefa 680px,#fefefb 720px,#fdfdfc 760px,#fdfdfc 800px,#fcfcfc 840px,#fafafc 880px,#f8f8fa 920px,#f6f6f9 960px,#f3f3f7 1000px,#f0f0f5 1040px,#ededf2 1080px,#e9e9f0 1120px,#e6e6ed 1160px,#e3e3eb 1200px,#dfe0e8 1240px,#dddde6 1280px,#dadae4 1320px,#d8d8e2 1360px,#d6d6e1 1400px,#d5d4e0 1440px,#d3d3df 1480px,#d2d2df 1520px,#d1d1de 1560px,#d0d0de 1600px) 0 592px/1600px 16px no-repeat,
linear-gradient(90deg,#fff4e3 0px,#fff4e5 40px,#fff5e6 80px,#fff5e7 120px,#fff6e8 160px,#fff6e9 200px,#fff7ea 240px,#fff8eb 280px,#fff8ed 320px,#fff9ee 360px,#fffaf0 400px,#fffbf2 440px,#fefcf3 480px,#fefcf5 520px,#fefdf7 560px,#fefef8 600px,#fefef9 640px,#fefefa 680px,#fefefb 720px,#fdfdfc 760px,#fcfdfc 800px,#fbfbfc 840px,#fafafb 880px,#f8f8fa 920px,#f5f5f9 960px,#f3f2f7 1000px,#efeff4 1040px,#ececf2 1080px,#e9e9ef 1120px,#e5e5ed 1160px,#e2e2ea 1200px,#dfdfe8 1240px,#dcdce6 1280px,#d9d9e3 1320px,#d7d7e1 1360px,#d5d5e0 1400px,#d4d3df 1440px,#d2d2de 1480px,#d1d1de 1520px,#d0d0dd 1560px,#cfcfdd 1600px) 0 608px/1600px 16px no-repeat,
linear-gradient(90deg,#fff4e4 0px,#fff5e6 40px,#fff5e7 80px,#fff6e7 120px,#fff6e8 160px,#fff7e9 200px,#fff7eb 240px,#fff8ec 280px,#fff9ed 320px,#fffaef 360px,#fffaf0 400px,#fffbf2 440px,#fefcf4 480px,#fefdf5 520px,#fefdf7 560px,#fefef8 600px,#fefefa 640px,#fefefb 680px,#fdfefb 720px,#fdfdfc 760px,#fcfcfc 800px,#fbfbfc 840px,#fafafb 880px,#f8f8fa 920px,#f5f5f8 960px,#f2f2f6 1000px,#efeff4 1040px,#ececf1 1080px,#e8e8ef 1120px,#e5e5ec 1160px,#e1e1ea 1200px,#dedee7 1240px,#dbdbe5 1280px,#d8d8e3 1320px,#d6d6e1 1360px,#d4d4df 1400px,#d3d2de 1440px,#d1d1dd 1480px,#d0d0dc 1520px,#cfcfdc 1560px,#cdcedc 1600px) 0 624px/1600px 16px no-repeat,
linear-gradient(90deg,#fff5e5 0px,#fff6e7 40px,#fff6e7 80px,#fff7e8 120px,#fff7e9 160px,#fff7ea 200px,#fff8eb 240px,#fff9ed 280px,#fff9ee 320px,#fffaef 360px,#fffbf1 400px,#fffcf2 440px,#fefcf4 480px,#fefdf6 520px,#fefef7 560px,#fefef9 600px,#fefefa 640px,#fefefb 680px,#fdfefb 720px,#fdfdfc 760px,#fcfcfc 800px,#fbfbfc 840px,#f9f9fb 880px,#f7f7fa 920px,#f5f5f8 960px,#f2f2f6 1000px,#eeeef3 1040px,#ebebf1 1080px,#e8e8ee 1120px,#e4e4ec 1160px,#e1e1e9 1200px,#dddde7 1240px,#dadae4 1280px,#d7d7e2 1320px,#d5d5e0 1360px,#d3d3de 1400px,#d1d1dd 1440px,#d0d0dc 1480px,#cfcfdb 1520px,#cdcedb 1560px,#cccdda 1600px) 0 640px/1600px 16px no-repeat,
linear-gradient(90deg,#fff6e6 0px,#fff6e7 40px,#fff7e8 80px,#fff7e9 120px,#fff7ea 160px,#fff8eb 200px,#fff8ec 240px,#fff9ed 280px,#fffaef 320px,#fffaf0 360px,#fffbf1 400px,#fffcf3 440px,#fefdf4 480px,#fefdf6 520px,#fefef7 560px,#fefef9 600px,#fefefa 640px,#fefefb 680px,#fdfefb 720px,#fdfdfc 760px,#fcfcfc 800px,#fbfbfb 840px,#f9f9fb 880px,#f7f7f9 920px,#f4f4f8 960px,#f1f1f5 1000px,#eeeef3 1040px,#ebeaf0 1080px,#e7e7ee 1120px,#e3e3eb 1160px,#e0e0e8 1200px,#dcdde6 1240px,#d9d9e3 1280px,#d7d7e1 1320px,#d4d4df 1360px,#d2d2dd 1400px,#d0d0dc 1440px,#cfcfdb 1480px,#cdceda 1520px,#cccdda 1560px,#cbcbd9 1600px) 0 656px/1600px 16px no-repeat,
linear-gradient(90deg,#fff6e7 0px,#fff7e8 40px,#fff7e9 80px,#fff8ea 120px,#fff8eb 160px,#fff8ec 200px,#fff9ed 240px,#fff9ee 280px,#fffaef 320px,#fffbf0 360px,#fffbf2 400px,#fffcf3 440px,#fefdf5 480px,#fefdf6 520px,#fefef8 560px,#fefef9 600px,#fefefa 640px,#fefefb 680px,#fdfefb 720px,#fcfdfc 760px,#fcfcfc 800px,#fafafb 840px,#f9f9fa 880px,#f6f6f9 920px,#f4f4f7 960px,#f1f0f5 1000px,#ededf3 1040px,#eaeaf0 1080px,#e6e6ed 1120px,#e3e3eb 1160px,#dfdfe8 1200px,#dcdce5 1240px,#d9d9e3 1280px,#d6d6e0 1320px,#d3d3de 1360px,#d1d1dc 1400px,#cfcfdb 1440px,#ceceda 1480px,#cccdd9 1520px,#cbcbd9 1560px,#c9cad8 1600px) 0 672px/1600px 16px no-repeat,
linear-gradient(90deg,#fff7e7 0px,#fff7e9 40px,#fff8ea 80px,#fff8ea 120px,#fff8eb 160px,#fff9ec 200px,#fff9ed 240px,#fffaee 280px,#fffaf0 320px,#fffbf1 360px,#fffcf2 400px,#fffcf4 440px,#fefdf5 480px,#fefdf6 520px,#fefef8 560px,#fefef9 600px,#fefefa 640px,#fdfefb 680px,#fdfdfb 720px,#fcfdfb 760px,#fbfbfb 800px,#fafafb 840px,#f8f8fa 880px,#f6f6f9 920px,#f3f3f7 960px,#f0f0f5 1000px,#ededf2 1040px,#e9e9ef 1080px,#e6e6ed 1120px,#e2e2ea 1160px,#dedfe7 1200px,#dbdbe4 1240px,#d8d8e2 1280px,#d5d5e0 1320px,#d2d2dd 1360px,#d0d0db 1400px,#ceceda 1440px,#cccdd9 1480px,#cbcbd8 1520px,#c9cad7 1560px,#c8c9d7 1600px) 0 688px/1600px 16px no-repeat,
linear-gradient(90deg,#fff7e8 0px,#fff8e9 40px,#fff8ea 80px,#fff9eb 120px,#fff9ec 160px,#fff9ed 200px,#fffaee 240px,#fffaef 280px,#fffbf0 320px,#fffbf1 360px,#fffcf3 400px,#fffdf4 440px,#fefdf5 480px,#fefef7 520px,#fefef8 560px,#fefef9 600px,#fefefa 640px,#fdfefb 680px,#fdfdfb 720px,#fcfcfb 760px,#fbfbfb 800px,#fafafb 840px,#f8f8fa 880px,#f6f5f8 920px,#f3f2f6 960px,#f0eff4 1000px,#ececf2 1040px,#e9e8ef 1080px,#e5e5ec 1120px,#e1e1e9 1160px,#dedee7 1200px,#dadae4 1240px,#d7d7e1 1280px,#d4d4df 1320px,#d1d1dd 1360px,#cfcfdb 1400px,#cdcdd9 1440px,#cbccd8 1480px,#c9cad7 1520px,#c8c9d6 1560px,#c7c8d6 1600px) 0 704px/1600px 16px no-repeat,
linear-gradient(90deg,#fff8e9 0px,#fff8ea 40px,#fff9eb 80px,#fff9ec 120px,#fff9ec 160px,#fffaed 200px,#fffaee 240px,#fffbef 280px,#fffbf1 320px,#fffcf2 360px,#fffcf3 400px,#fffdf4 440px,#fffdf5 480px,#fefef7 520px,#fefef8 560px,#fefef9 600px,#fefefa 640px,#fdfefb 680px,#fdfdfb 720px,#fcfcfb 760px,#fbfbfb 800px,#f9f9fa 840px,#f8f7f9 880px,#f5f5f8 920px,#f2f2f6 960px,#efeff4 1000px,#ecebf1 1040px,#e8e8ee 1080px,#e5e4ec 1120px,#e1e1e9 1160px,#dddde6 1200px,#d9dae3 1240px,#d6d6e0 1280px,#d3d3de 1320px,#d0d0dc 1360px,#ceceda 1400px,#ccccd8 1440px,#cacad7 1480px,#c8c9d6 1520px,#c7c8d5 1560px,#c5c6d4 1600px) 0 720px/1600px 16px no-repeat,
linear-gradient(90deg,#fff8e9 0px,#fff9ea 40px,#fff9eb 80px,#fff9ec 120px,#fffaed 160px,#fffaee 200px,#fffaef 240px,#fffbf0 280px,#fffbf1 320px,#fffcf2 360px,#fffdf3 400px,#fffdf5 440px,#fffdf6 480px,#fefef7 520px,#fefef8 560px,#fefef9 600px,#fefefa 640px,#fdfefa 680px,#fdfdfb 720px,#fcfcfb 760px,#fbfbfb 800px,#f9f9fa 840px,#f7f7f9 880px,#f5f4f7 920px,#f2f1f5 960px,#efeef3 1000px,#ebebf1 1040px,#e8e7ee 1080px,#e4e4eb 1120px,#e0e0e8 1160px,#dcdce5 1200px,#d9d9e2 1240px,#d5d5e0 1280px,#d2d2dd 1320px,#cfcfdb 1360px,#cdcdd9 1400px,#cacbd7 1440px,#c8c9d6 1480px,#c7c8d5 1520px,#c5c6d4 1560px,#c4c5d3 1600px) 0 736px/1600px 16px no-repeat,
linear-gradient(90deg,#fff9ea 0px,#fff9eb 40px,#fff9ec 80px,#fffaed 120px,#fffaed 160px,#fffaee 200px,#fffbef 240px,#fffbf0 280px,#fffcf1 320px,#fffcf3 360px,#fffdf4 400px,#fffdf5 440px,#fffef6 480px,#fefef7 520px,#fefef8 560px,#fefef9 600px,#fefefa 640px,#fdfdfa 680px,#fcfdfb 720px,#fcfcfb 760px,#fafafa 800px,#f9f8fa 840px,#f7f6f8 880px,#f4f4f7 920px,#f1f1f5 960px,#eeedf3 1000px,#ebeaf0 1040px,#e7e6ed 1080px,#e3e3ea 1120px,#dfdfe8 1160px,#dcdbe5 1200px,#d8d8e2 1240px,#d4d4df 1280px,#d1d1dc 1320px,#cecfda 1360px,#cbccd8 1400px,#c9cad6 1440px,#c7c8d5 1480px,#c5c7d4 1520px,#c4c5d3 1560px,#c2c4d2 1600px) 0 752px/1600px 16px no-repeat,
linear-gradient(90deg,#fff9ea 0px,#fff9eb 40px,#fffaec 80px,#fffaed 120px,#fffaee 160px,#fffbef 200px,#fffbf0 240px,#fffcf1 280px,#fffcf2 320px,#fffdf3 360px,#fffdf4 400px,#fffdf5 440px,#fffef6 480px,#fefef7 520px,#fefef8 560px,#fefef9 600px,#fdfefa 640px,#fdfdfa 680px,#fcfcfa 720px,#fbfbfa 760px,#fafafa 800px,#f9f8f9 840px,#f6f6f8 880px,#f4f3f6 920px,#f1f0f4 960px,#eeedf2 1000px,#eae9f0 1040px,#e6e6ed 1080px,#e3e2ea 1120px,#dfdee7 1160px,#dbdbe4 1200px,#d7d7e1 1240px,#d3d4de 1280px,#d0d0dc 1320px,#cdced9 1360px,#cacbd7 1400px,#c8c9d5 1440px,#c6c7d4 1480px,#c4c5d2 1520px,#c2c4d2 1560px,#c1c3d1 1600px) 0 768px/1600px 16px no-repeat,
linear-gradient(90deg,#fff9eb 0px,#fffaec 40px,#fffaed 80px,#fffaed 120px,#fffbee 160px,#fffbef 200px,#fffbf0 240px,#fffcf1 280px,#fffcf2 320px,#fffdf3 360px,#fffdf4 400px,#fffef5 440px,#fffef6 480px,#fefef7 520px,#fefef8 560px,#fefef9 600px,#fdfefa 640px,#fdfdfa 680px,#fcfcfa 720px,#fbfbfa 760px,#faf9fa 800px,#f8f7f9 840px,#f6f5f8 880px,#f4f2f6 920px,#f1eff4 960px,#edecf2 1000px,#eae9ef 1040px,#e6e5ec 1080px,#e2e1e9 1120px,#dedee6 1160px,#dadae3 1200px,#d6d6e0 1240px,#d3d3dd 1280px,#cfd0db 1320px,#cccdd8 1360px,#c9cad6 1400px,#c7c8d4 1440px,#c5c6d3 1480px,#c3c4d1 1520px,#c1c3d1 1560px,#c0c2d0 1600px) 0 784px/1600px 16px no-repeat,
linear-gradient(90deg,#fffaeb 0px,#fffaec 40px,#fffaed 80px,#fffbee 120px,#fffbef 160px,#fffbf0 200px,#fffcf1 240px,#fffcf2 280px,#fffdf3 320px,#fffdf4 360px,#fffdf5 400px,#fffef6 440px,#fffef6 480px,#fefef7 520px,#fefef8 560px,#fefef9 600px,#fdfefa 640px,#fdfdfa 680px,#fcfcfa 720px,#fbfbfa 760px,#faf9f9 800px,#f8f7f8 840px,#f6f5f7 880px,#f3f2f5 920px,#f0eff3 960px,#edebf1 1000px,#e9e8ee 1040px,#e5e4ec 1080px,#e1e1e9 1120px,#dddde6 1160px,#d9d9e3 1200px,#d5d5e0 1240px,#d2d2dd 1280px,#cecfda 1320px,#cbccd7 1360px,#c8c9d5 1400px,#c6c7d3 1440px,#c3c5d2 1480px,#c1c3d0 1520px,#c0c2cf 1560px,#bec0cf 1600px) 0 800px/1600px 16px no-repeat,
linear-gradient(90deg,#fffaeb 0px,#fffbec 40px,#fffbed 80px,#fffbee 120px,#fffbef 160px,#fffcf0 200px,#fffcf1 240px,#fffcf2 280px,#fffdf3 320px,#fffdf4 360px,#fffef5 400px,#fffef6 440px,#fffef7 480px,#fefef7 520px,#fefef8 560px,#fefef9 600px,#fdfdf9 640px,#fdfdfa 680px,#fcfcfa 720px,#fbfbfa 760px,#faf9f9 800px,#f8f7f8 840px,#f5f4f7 880px,#f3f1f5 920px,#f0eef3 960px,#ecebf0 1000px,#e9e7ee 1040px,#e5e4eb 1080px,#e1e0e8 1120px,#dddce5 1160px,#d9d8e2 1200px,#d5d5df 1240px,#d1d1dc 1280px,#cdced9 1320px,#cacbd7 1360px,#c7c8d4 1400px,#c4c6d2 1440px,#c2c3d1 1480px,#c0c2cf 1520px,#bec0ce 1560px,#bdbfce 1600px) 0 816px/1600px 16px no-repeat,
linear-gradient(90deg,#fffbec 0px,#fffbed 40px,#fffbee 80px,#fffbef 120px,#fffbef 160px,#fffcf0 200px,#fffcf1 240px,#fffdf2 280px,#fffdf3 320px,#fffdf4 360px,#fffef5 400px,#fffef6 440px,#fffef7 480px,#fefef7 520px,#fefef8 560px,#fefef9 600px,#fdfdf9 640px,#fdfdfa 680px,#fcfcfa 720px,#fbfaf9 760px,#f9f8f9 800px,#f7f6f8 840px,#f5f4f6 880px,#f2f1f4 920px,#efeef2 960px,#eceaf0 1000px,#e8e7ed 1040px,#e4e3eb 1080px,#e0dfe8 1120px,#dcdce5 1160px,#d8d8e2 1200px,#d4d4df 1240px,#d0d0db 1280px,#cccdd8 1320px,#c9cad6 1360px,#c6c7d3 1400px,#c3c4d1 1440px,#c1c2cf 1480px,#bfc1ce 1520px,#bdbfcd 1560px,#bcbecd 1600px) 0 832px/1600px 16px no-repeat,
linear-gradient(90deg,#fffbec 0px,#fffbed 40px,#fffbee 80px,#fffbef 120px,#fffcf0 160px,#fffcf1 200px,#fffcf2 240px,#fffdf3 280px,#fffdf4 320px,#fffef4 360px,#fffef5 400px,#fffef6 440px,#fffef7 480px,#fefef8 520px,#fefef8 560px,#fefef9 600px,#fdfdf9 640px,#fdfdfa 680px,#fcfbfa 720px,#fbfaf9 760px,#f9f8f8 800px,#f7f6f7 840px,#f5f3f6 880px,#f2f0f4 920px,#efedf2 960px,#ebeaf0 1000px,#e8e6ed 1040px,#e4e2ea 1080px,#e0dfe7 1120px,#dcdbe4 1160px,#d7d7e1 1200px,#d3d3de 1240px,#cfd0db 1280px,#ccccd8 1320px,#c8c9d5 1360px,#c5c6d2 1400px,#c2c3d0 1440px,#c0c1ce 1480px,#bec0cd 1520px,#bcbecc 1560px,#bbbdcc 1600px) 0 848px/1600px 16px no-repeat,
linear-gradient(90deg,#fffbed 0px,#fffbee 40px,#fffcee 80px,#fffcef 120px,#fffcf0 160px,#fffcf1 200px,#fffdf2 240px,#fffdf3 280px,#fffdf4 320px,#fffef5 360px,#fffef6 400px,#fffef6 440px,#fffef7 480px,#fefef8 520px,#fefef8 560px,#fefef9 600px,#fdfdf9 640px,#fdfcfa 680px,#fcfbf9 720px,#fbfaf9 760px,#f9f8f8 800px,#f7f5f7 840px,#f5f3f5 880px,#f2f0f4 920px,#eeecf1 960px,#ebe9ef 1000px,#e7e5ed 1040px,#e3e2ea 1080px,#dfdee7 1120px,#dbdae4 1160px,#d7d6e1 1200px,#d3d2dd 1240px,#cfcfda 1280px,#cbcbd7 1320px,#c7c8d4 1360px,#c4c5d2 1400px,#c1c2cf 1440px,#bec0ce 1480px,#bcbecc 1520px,#bbbdcb 1560px,#b9bccb 1600px) 0 864px/1600px 16px no-repeat,
linear-gradient(90deg,#fefced 0px,#fffcee 40px,#fffcef 80px,#fffcf0 120px,#fffcf0 160px,#fffdf1 200px,#fffdf2 240px,#fffdf3 280px,#fffef4 320px,#fffef5 360px,#fffef6 400px,#fffef7 440px,#fffef7 480px,#fefef8 520px,#fefef8 560px,#fefef9 600px,#fdfdf9 640px,#fdfcf9 680px,#fcfbf9 720px,#faf9f9 760px,#f9f7f8 800px,#f7f5f7 840px,#f4f2f5 880px,#f1eff3 920px,#eeecf1 960px,#ebe8ef 1000px,#e7e5ec 1040px,#e3e1e9 1080px,#dfdee7 1120px,#dadae4 1160px,#d6d6e0 1200px,#d2d2dd 1240px,#ceceda 1280px,#cacbd6 1320px,#c7c7d4 1360px,#c3c4d1 1400px,#c0c1ce 1440px,#bdbfcd 1480px,#bbbdcb 1520px,#babcca 1560px,#b8bbca 1600px) 0 880px/1600px 16px no-repeat,
linear-gradient(90deg,#fefced 0px,#fffcee 40px,#fffcef 80px,#fffcf0 120px,#fffdf1 160px,#fffdf2 200px,#fffdf3 240px,#fffef4 280px,#fffef4 320px,#fffef5 360px,#fffef6 400px,#fffef7 440px,#fffef7 480px,#fefef8 520px,#fefef8 560px,#fefef9 600px,#fdfdf9 640px,#fcfcf9 680px,#fcfbf9 720px,#faf9f9 760px,#f9f7f8 800px,#f7f5f6 840px,#f4f2f5 880px,#f1eff3 920px,#eeebf0 960px,#eae8ee 1000px,#e6e4ec 1040px,#e2e1e9 1080px,#dedde6 1120px,#dad9e3 1160px,#d6d5e0 1200px,#d1d1dc 1240px,#cdced9 1280px,#cacad6 1320px,#c6c7d3 1360px,#c2c3d0 1400px,#bfc1ce 1440px,#bcbecc 1480px,#babcca 1520px,#b9bbc9 1560px,#b7bac9 1600px) 0 896px/1600px 16px no-repeat,
linear-gradient(90deg,#fefcee 0px,#fefcef 40px,#fffdef 80px,#fffdf0 120px,#fffdf1 160px,#fffdf2 200px,#fffdf3 240px,#fffef4 280px,#fffef5 320px,#fffef5 360px,#fffef6 400px,#fffef7 440px,#fffef7 480px,#fefef8 520px,#fefef8 560px,#fefdf9 600px,#fdfdf9 640px,#fcfcf9 680px,#fbfbf9 720px,#faf9f8 760px,#f8f7f7 800px,#f6f4f6 840px,#f4f1f4 880px,#f1eef2 920px,#edebf0 960px,#eae7ee 1000px,#e6e4eb 1040px,#e2e0e9 1080px,#dedde6 1120px,#dad9e3 1160px,#d5d5df 1200px,#d1d1dc 1240px,#cdcdd9 1280px,#c9c9d5 1320px,#c5c6d2 1360px,#c2c3cf 1400px,#bec0cd 1440px,#bbbdcb 1480px,#b9bbc9 1520px,#b8bac8 1560px,#b6b9c8 1600px) 0 912px/1600px 16px no-repeat,
linear-gradient(90deg,#fefdee 0px,#fefdef 40px,#fffdf0 80px,#fffdf1 120px,#fffdf1 160px,#fffdf2 200px,#fffef3 240px,#fffef4 280px,#fffef5 320px,#fffef6 360px,#fffef6 400px,#fffef7 440px,#fffef8 480px,#fefef8 520px,#fefef9 560px,#fefdf9 600px,#fdfdf9 640px,#fcfcf9 680px,#fbfaf9 720px,#faf9f8 760px,#f8f7f7 800px,#f6f4f6 840px,#f3f1f4 880px,#f0eef2 920px,#edeaf0 960px,#e9e7ed 1000px,#e5e3eb 1040px,#e1e0e8 1080px,#dddce6 1120px,#d9d8e3 1160px,#d5d4df 1200px,#d1d0dc 1240px,#ccccd8 1280px,#c8c9d5 1320px,#c5c5d2 1360px,#c1c2cf 1400px,#bdbfcc 1440px,#bbbcca 1480px,#b8bac8 1520px,#b7b9c8 1560px,#b5b8c7 1600px) 0 928px/1600px 16px no-repeat,
linear-gradient(90deg,#fefdee 0px,#fefdef 40px,#fefdf0 80px,#fffdf1 120px,#fffdf2 160px,#fffef3 200px,#fffef4 240px,#fffef4 280px,#fffef5 320px,#fffef6 360px,#fffff7 400px,#fffff7 440px,#fffef8 480px,#fefef8 520px,#fefef9 560px,#fdfdf9 600px,#fdfdf9 640px,#fcfcf9 680px,#fbfaf9 720px,#faf9f8 760px,#f8f6f7 800px,#f6f4f6 840px,#f3f1f4 880px,#f0edf2 920px,#edeaef 960px,#e9e6ed 1000px,#e5e3eb 1040px,#e1dfe8 1080px,#dddce5 1120px,#d9d8e2 1160px,#d4d4df 1200px,#d0d0db 1240px,#ccccd8 1280px,#c8c8d4 1320px,#c4c5d1 1360px,#c0c1ce 1400px,#bdbecc 1440px,#babcc9 1480px,#b7bac8 1520px,#b6b8c7 1560px,#b5b7c6 1600px) 0 944px/1600px 16px no-repeat,
linear-gradient(90deg,#fefdef 0px,#fefdef 40px,#fefdf0 80px,#fffef1 120px,#fffef2 160px,#fffef3 200px,#fffef4 240px,#fffef5 280px,#fffef5 320px,#fffff6 360px,#fffff7 400px,#fffff7 440px,#fffef8 480px,#fefef8 520px,#fefef9 560px,#fdfdf9 600px,#fdfcf9 640px,#fcfbf9 680px,#fbfaf9 720px,#faf8f8 760px,#f8f6f7 800px,#f6f3f5 840px,#f3f0f3 880px,#f0edf1 920px,#ece9ef 960px,#e9e6ec 1000px,#e5e2ea 1040px,#e1dfe8 1080px,#dddbe5 1120px,#d8d8e2 1160px,#d4d4de 1200px,#d0cfdb 1240px,#ccccd7 1280px,#c7c8d4 1320px,#c3c4d1 1360px,#c0c1ce 1400px,#bcbecb 1440px,#b9bbc9 1480px,#b7b9c7 1520px,#b5b7c6 1560px,#b4b6c6 1600px) 0 960px/1600px 16px no-repeat,
linear-gradient(90deg,#fefdef 0px,#fefef0 40px,#fefef1 80px,#fffef1 120px,#fffef2 160px,#fffef3 200px,#fffef4 240px,#fffef5 280px,#fffff6 320px,#fffff6 360px,#fffff7 400px,#fffff7 440px,#fefef8 480px,#fefef8 520px,#fefef9 560px,#fdfdf9 600px,#fdfcf9 640px,#fcfbf9 680px,#fbfaf8 720px,#faf8f8 760px,#f8f6f7 800px,#f5f3f5 840px,#f3f0f3 880px,#efecf1 920px,#ece9ef 960px,#e8e5ec 1000px,#e4e2ea 1040px,#e0dfe8 1080px,#dcdbe5 1120px,#d8d7e2 1160px,#d4d3de 1200px,#cfcfdb 1240px,#cbcbd7 1280px,#c7c7d3 1320px,#c3c4d0 1360px,#bfc0cd 1400px,#bcbdca 1440px,#b9bac8 1480px,#b6b8c7 1520px,#b5b7c6 1560px,#b3b6c5 1600px) 0 976px/1600px 16px no-repeat,
linear-gradient(90deg,#fefeef 0px,#fefef0 40px,#fefef1 80px,#fefef2 120px,#fffef3 160px,#fffef3 200px,#fffff4 240px,#fffff5 280px,#fffff6 320px,#fffff7 360px,#fffff7 400px,#fffff8 440px,#fefef8 480px,#fefef8 520px,#fefef9 560px,#fdfdf9 600px,#fdfcf9 640px,#fcfbf9 680px,#fbfaf8 720px,#f9f8f8 760px,#f8f6f6 800px,#f5f3f5 840px,#f2f0f3 880px,#efecf1 920px,#ece8ee 960px,#e8e5ec 1000px,#e4e2ea 1040px,#e0dee8 1080px,#dcdbe5 1120px,#d8d7e2 1160px,#d3d3de 1200px,#cfcfda 1240px,#cbcbd7 1280px,#c7c7d3 1320px,#c3c3d0 1360px,#bfc0cd 1400px,#bbbdca 1440px,#b8bac8 1480px,#b6b8c6 1520px,#b4b6c5 1560px,#b3b5c4 1600px) 0 992px/1600px 16px no-repeat,
linear-gradient(90deg,#fefeef 0px,#fefef0 40px,#fefef1 80px,#fefef2 120px,#fffef3 160px,#fffff4 200px,#fffff5 240px,#fffff5 280px,#fffff6 320px,#fffff7 360px,#fffff7 400px,#fffff8 440px,#fefef8 480px,#fefef8 520px,#fefdf9 560px,#fdfdf9 600px,#fcfcf9 640px,#fcfbf9 680px,#fbf9f8 720px,#f9f8f7 760px,#f7f5f6 800px,#f5f3f5 840px,#f2eff3 880px,#efecf0 920px,#ebe8ee 960px,#e7e5ec 1000px,#e4e1ea 1040px,#e0dee7 1080px,#dbdae5 1120px,#d7d7e1 1160px,#d3d3de 1200px,#cfceda 1240px,#cbcad6 1280px,#c6c7d3 1320px,#c2c3cf 1360px,#bebfcc 1400px,#bbbcca 1440px,#b8bac8 1480px,#b6b7c6 1520px,#b4b6c5 1560px,#b2b5c4 1600px) 0 1008px/1600px 16px no-repeat,
linear-gradient(90deg,#fefef0 0px,#fefef1 40px,#fefef1 80px,#fefff2 120px,#fffff3 160px,#fffff4 200px,#fffff5 240px,#fffff6 280px,#fffff6 320px,#fffff7 360px,#fffff7 400px,#fefff8 440px,#fefef8 480px,#fefef8 520px,#fdfdf9 560px,#fdfdf9 600px,#fcfcf9 640px,#fbfbf8 680px,#faf9f8 720px,#f9f7f7 760px,#f7f5f6 800px,#f5f2f4 840px,#f2eff2 880px,#eeecf0 920px,#ebe8ee 960px,#e7e4ec 1000px,#e3e1ea 1040px,#dfdee7 1080px,#dbdae5 1120px,#d7d6e1 1160px,#d3d2dd 1200px,#ceceda 1240px,#cacad6 1280px,#c6c6d2 1320px,#c2c3cf 1360px,#bebfcc 1400px,#bbbcc9 1440px,#b8b9c7 1480px,#b5b7c6 1520px,#b3b5c4 1560px,#b2b4c3 1600px) 0 1024px/1600px 16px no-repeat,
linear-gradient(90deg,#fefef0 0px,#fefff1 40px,#fefff2 80px,#fefff3 120px,#fefff3 160px,#fffff4 200px,#fffff5 240px,#fffff6 280px,#fffff6 320px,#fffff7 360px,#fffff7 400px,#fefff8 440px,#fefef8 480px,#fefef8 520px,#fdfdf9 560px,#fdfcf9 600px,#fcfbf8 640px,#fbfaf8 680px,#faf9f8 720px,#f9f7f7 760px,#f7f5f6 800px,#f4f2f4 840px,#f1eff2 880px,#eeebf0 920px,#eae8ee 960px,#e7e4eb 1000px,#e3e1e9 1040px,#dfdee7 1080px,#dbdae4 1120px,#d7d6e1 1160px,#d2d2dd 1200px,#ceced9 1240px,#cacad6 1280px,#c6c6d2 1320px,#c2c2cf 1360px,#bebfcc 1400px,#babcc9 1440px,#b7b9c7 1480px,#b5b7c5 1520px,#b3b5c4 1560px,#b1b4c3 1600px) 0 1040px/1600px 16px no-repeat,
linear-gradient(90deg,#fefff0 0px,#fefff1 40px,#fefff2 80px,#fefff3 120px,#fefff4 160px,#fffff4 200px,#fffff5 240px,#fffff6 280px,#fffff6 320px,#fffff7 360px,#fefff7 400px,#fefef8 440px,#fefef8 480px,#fdfef8 520px,#fdfdf8 560px,#fcfcf8 600px,#fcfbf8 640px,#fbfaf8 680px,#faf8f8 720px,#f8f7f7 760px,#f6f4f6 800px,#f4f2f4 840px,#f1eef2 880px,#eeebf0 920px,#eae7ee 960px,#e6e4eb 1000px,#e2e1e9 1040px,#dedde7 1080px,#dadae4 1120px,#d6d6e1 1160px,#d2d2dd 1200px,#ceced9 1240px,#cacad5 1280px,#c5c6d2 1320px,#c1c2cf 1360px,#bebfcc 1400px,#babbc9 1440px,#b7b9c7 1480px,#b5b7c5 1520px,#b3b5c4 1560px,#b1b3c3 1600px) 0 1056px/1600px 16px no-repeat;}
svg{position:absolute;left:0;top:0;}
text{font-family:"Liberation Sans",sans-serif;}
</style></head><body>
<div id="bg"></div>
<svg width="1600" height="1067" viewBox="0 0 1600 1067">
<defs>
<linearGradient id="bdt" x1="0" y1="0" x2="1" y2="0"><stop offset="0" stop-color="#f9dac8"/><stop offset="1" stop-color="#f8e0d6"/></linearGradient>
<linearGradient id="bdr" x1="0" y1="0" x2="0" y2="1"><stop offset="0" stop-color="#f5e0d8"/><stop offset="0.5" stop-color="#e9dadc"/><stop offset="1" stop-color="#c4bcc8"/></linearGradient>
<linearGradient id="bdl" x1="0" y1="0" x2="0" y2="1"><stop offset="0" stop-color="#f5d9cb"/><stop offset="0.35" stop-color="#e6d6d3"/><stop offset="1" stop-color="#c8c8d2"/></linearGradient>
<linearGradient id="bdb" x1="0" y1="0" x2="1" y2="0"><stop offset="0" stop-color="#c4c4cf"/><stop offset="1" stop-color="#b0b2c0"/></linearGradient>
<linearGradient id="ghex" x1="0" y1="0" x2="0" y2="1">
 <stop offset="0" stop-color="#f99358"/><stop offset="0.2" stop-color="#f69158"/>
 <stop offset="0.45" stop-color="#c97a58"/><stop offset="0.7" stop-color="#8a5552"/>
 <stop offset="1" stop-color="#3e2c4b"/></linearGradient>
<linearGradient id="gtx" x1="0" y1="0" x2="0" y2="1">
 <stop offset="0" stop-color="#f9955a"/><stop offset="0.2" stop-color="#f08f5a"/>
 <stop offset="0.5" stop-color="#b06e57"/><stop offset="0.8" stop-color="#6a4852"/><stop offset="1" stop-color="#3a2a4a"/></linearGradient>
<linearGradient id="gtt" x1="0" y1="0" x2="0" y2="1">
 <stop offset="0" stop-color="#e98b5d"/><stop offset="0.4" stop-color="#b57057"/>
 <stop offset="0.65" stop-color="#7a5254"/><stop offset="0.85" stop-color="#3e2e4c"/><stop offset="1" stop-color="#1b1a4a"/></linearGradient>
<linearGradient id="gtX" x1="0" y1="0" x2="0" y2="1">
 <stop offset="0" stop-color="#f7935a"/><stop offset="0.3" stop-color="#d07f58"/>
 <stop offset="0.55" stop-color="#9a6055"/><stop offset="0.8" stop-color="#4e3650"/><stop offset="1" stop-color="#1e1b4a"/></linearGradient>
<linearGradient id="gbl1" gradientUnits="userSpaceOnUse" x1="1196" y1="44" x2="1202" y2="60">
 <stop offset="0" stop-color="#9fd8ee"/><stop offset="0.33" stop-color="#8ccfea"/><stop offset="0.42" stop-color="#45a8db"/><stop offset="0.7" stop-color="#3a96d4"/><stop offset="1" stop-color="#2b72c2"/></linearGradient>
<linearGradient id="gbl2" x1="0" y1="0" x2="1" y2="1">
 <stop offset="0" stop-color="#2a3f9c"/><stop offset="1" stop-color="#1e95d8"/></linearGradient>
<linearGradient id="ggr1" gradientUnits="userSpaceOnUse" x1="1216" y1="70" x2="1223" y2="86">
 <stop offset="0" stop-color="#8cc63f"/><stop offset="0.45" stop-color="#86c440"/><stop offset="0.55" stop-color="#55b847"/><stop offset="1" stop-color="#3d9d45"/></linearGradient>
<linearGradient id="ggr2" x1="1" y1="1" x2="0" y2="0">
 <stop offset="0" stop-color="#0b6e36"/><stop offset="1" stop-color="#2e9a48"/></linearGradient>
<linearGradient id="gcg" x1="0" y1="0" x2="0" y2="1">
 <stop offset="0" stop-color="#45b649"/><stop offset="1" stop-color="#a6cd39"/></linearGradient>
<linearGradient id="gcb" x1="0" y1="0" x2="0" y2="1">
 <stop offset="0" stop-color="#2a72c4"/><stop offset="1" stop-color="#3fb0dc"/></linearGradient>
<linearGradient id="grc" x1="0" y1="0" x2="0" y2="1">
 <stop offset="0" stop-color="#36b24a"/><stop offset="1" stop-color="#a7ce3a"/></linearGradient>
<linearGradient id="gsw" x1="0" y1="0" x2="0" y2="1">
 <stop offset="0" stop-color="#1c6cbc"/><stop offset="1" stop-color="#40c3de"/></linearGradient>
</defs>
<rect x="676.4" y="87.6" width="252.6" height="54.5" rx="27.2" fill="#c8c8c8" fill-opacity="0.25"/>
<text x="800.3" y="128.3" text-anchor="middle" font-size="37.7" fill="#2e82dd" stroke="#2e82dd" stroke-width="0.9">Order Flow</text>
<path d="M185.26,108.4 A14,14 0 0 1 185.26,122.4 L163.59,159.93 A14,14 0 0 1 151.47,166.93 L108.13,166.93 A14,14 0 0 1 96.01,159.93 L74.34,122.4 A14,14 0 0 1 74.34,108.4 L96.01,70.87 A14,14 0 0 1 108.13,63.87 L151.47,63.87 A14,14 0 0 1 163.59,70.87 Z" fill="url(#ghex)"/><rect x="115.1" y="84.2" width="7.5" height="59.6" fill="#fff"/><rect x="93.2" y="103.9" width="53.3" height="7.9" fill="#fff"/><path d="M127,123.4 A19.5,19.5 0 1 1 166,123.4 A19.5,19.5 0 1 1 127,123.4 Z M134.9,123.4 A11.6,11.6 0 1 0 158.1,123.4 A11.6,11.6 0 1 0 134.9,123.4 Z" fill="#fff" fill-rule="evenodd"/><path d="M218.4,73.2 H225.9 V135.1 H218.4 Z M196.4,93.1 H247 V101.1 H196.4 Z" fill="url(#gtt)"/><path d="M269.03,109 A20,20 0 1 0 263.89,127.19 L258.13,121.64 A12,12 0 1 1 260.7,109 Z M233.5,117 L269.15,117 L269.03,109 L233.5,109 Z" fill="url(#gtx)"/><path d="M296.8,93.1 L305,93.1 L273.9,133.4 L264,133.4 Z M264,93.1 L273.4,93.1 L325,157.3 L315.1,157.3 Z" fill="url(#gtX)"/><path d="M314.1,112.8 A19.5,19.5 0 1 1 353.1,112.8 A19.5,19.5 0 1 1 314.1,112.8 Z M321.6,112.8 A12,12 0 1 0 345.6,112.8 A12,12 0 1 0 321.6,112.8 Z" fill="url(#gtx)" fill-rule="evenodd"/><path d="M355.8,93.3 H363.8 V132.2 H355.8 Z M355.8,112.7 A19.6,19.6 0 0 1 395,112.7 V132.2 H387 V112.7 A11.6,11.6 0 0 0 363.8,112.7 Z" fill="url(#gtx)"/><path d="M436.55,108.3 A19.5,19.5 0 1 0 431.63,126.45 L425.94,120.96 A11.6,11.6 0 1 1 428.25,108.3 Z M402.05,116.2 L436.82,116.2 L436.55,108.3 L402.05,108.3 Z" fill="url(#gtx)"/>
<path d="M1210.7,39.2 C1209,47 1203,56 1193,61.5 L1187.2,65.6 L1185.9,64 L1185.9,56 C1186,52 1188,50.5 1191,49 Z" fill="url(#gbl1)"/><path d="M1187.3,66.5 L1193,61.8 C1196,64 1198.5,68.5 1198.8,72.5 C1198.8,73.6 1198,74 1197,73.4 Z" fill="url(#gbl2)"/><path d="M1208.3,90.8 C1210,83 1216,74 1226,68.5 L1231.8,64.4 L1233.1,66 L1233.1,74 C1233,78 1231,79.5 1228,81 Z" fill="url(#ggr1)"/><path d="M1231.7,63.5 L1226,68.2 C1223,66 1220.5,61.5 1220.2,57.5 C1220.2,56.4 1221,56 1222,56.6 Z" fill="url(#ggr2)"/><path d="M1211.2,38.3 C1214,40.5 1217.5,44 1217,47 L1210.3,67 L1207.6,63.4 L1213,43.5 Z" fill="url(#gcg)"/><path d="M1207.6,63.4 L1210.3,67 L1204.2,86.5 C1204.5,88.5 1206,90.5 1206.8,91.6 C1204,89.5 1201,86.5 1201.2,83.5 Z" fill="url(#gcb)"/>
<text x="1245" y="80.7" font-size="44.5" fill="url(#grc)" stroke="url(#grc)" stroke-width="0.6" textLength="135" lengthAdjust="spacingAndGlyphs">rCloud</text>
<text x="1388.5" y="80.7" font-size="44.5" fill="url(#gsw)" stroke="url(#gsw)" stroke-width="0.6" textLength="185" lengthAdjust="spacingAndGlyphs">Softwares</text>
<rect x="185" y="245" width="286" height="83" rx="41.5" fill="#ba85db"/><text x="329" y="295.4" text-anchor="middle" font-size="32.5" fill="#fff">Order Registration</text><line x1="329" y1="328" x2="329" y2="399.2" stroke="#989d9d" stroke-width="1.45"/><path d="M329,407 L324.3,399.2 L333.7,399.2 Z" fill="#8e9393"/><path d="M329,408 L432.5,512 L329,616 L225.5,512 Z" fill="#abbbfa"/><text x="329.5" y="488.2" text-anchor="middle" font-size="32.5" fill="#fff">Order</text><text x="329.5" y="524.7" text-anchor="middle" font-size="32.5" fill="#fff">Amendment</text><line x1="432.5" y1="511.8" x2="812.6" y2="511.8" stroke="#989d9d" stroke-width="1.45"/><path d="M820.4,511.8 L812.6,516.5 L812.6,507.1 Z" fill="#8e9393"/><rect x="822" y="471" width="231" height="83" rx="41.5" fill="#ba85db"/><text x="937" y="523" text-anchor="middle" font-size="32.5" fill="#fff">Orders in Hand</text><line x1="1053" y1="512.5" x2="1200.9" y2="512.5" stroke="#989d9d" stroke-width="1.45"/><path d="M1208.7,512.5 L1200.9,517.2 L1200.9,507.8 Z" fill="#8e9393"/><path d="M1234.94,461.36 A18,18 0 0 1 1251.51,450.4 L1518.99,450.4 A18,18 0 0 1 1535.55,475.44 L1487.46,588.54 A18,18 0 0 1 1470.89,599.5 L1203.41,599.5 A18,18 0 0 1 1186.85,574.46 Z" fill="#ec97ec" stroke="#b48cbc" stroke-opacity="0.6" stroke-width="0.9"/><text x="1368" y="498.9" text-anchor="middle" font-size="32.5" fill="#fff">Yarn and</text><text x="1368" y="535.5" text-anchor="middle" font-size="32.5" fill="#fff">Fabric Requirement</text><line x1="1359" y1="574" x2="1359" y2="638.8" stroke="#989d9d" stroke-width="1.45"/><path d="M1359,646.6 L1354.3,638.8 L1363.7,638.8 Z" fill="#8e9393"/><path d="M1221.2,803 L1221.2,691.4 A18.5,18.5 0 0 1 1239.7,672.9 L1459.5,672.9 A18.5,18.5 0 0 1 1478,691.4 L1478,759.6 C1373.9,747.8 1327.7,828.8 1221.2,803 Z" fill="#f38cc2"/><text x="1357.5" y="717.5" text-anchor="middle" font-size="32.5" fill="#fff">Trims</text><text x="1358.5" y="754" text-anchor="middle" font-size="32.5" fill="#fff">Requirement</text><line x1="1359" y1="771" x2="1359" y2="867.2" stroke="#989d9d" stroke-width="1.45"/><path d="M1359,875 L1354.3,867.2 L1363.7,867.2 Z" fill="#8e9393"/><rect x="1223" y="901" width="214" height="104" rx="3" fill="#fa96d9"/><text x="1333.5" y="944.7" text-anchor="middle" font-size="32.5" fill="#fff">Production</text><text x="1338" y="981" text-anchor="middle" font-size="32.5" fill="#fff">Planning</text><line x1="1223" y1="956" x2="537.8" y2="956" stroke="#989d9d" stroke-width="1.45"/><path d="M530,956 L537.8,951.3 L537.8,960.7 Z" fill="#8e9393"/><rect x="334" y="910.5" width="195" height="95" rx="3" fill="#fa96d9"/><text x="433.5" y="966.3" text-anchor="middle" font-size="32.5" fill="#fff">Hot Process</text><line x1="427" y1="910.5" x2="427" y2="792" stroke="#989d9d" stroke-width="1.45"/><path d="M427,784.2 L431.7,792 L422.3,792 Z" fill="#8e9393"/><path d="M323.26,671.34 A16.5,16.5 0 0 1 338.49,661.2 L554.4,661.2 A16.5,16.5 0 0 1 569.55,684.24 L531.1,773.24 A16.5,16.5 0 0 1 515.95,783.2 L301.28,783.2 A16.5,16.5 0 0 1 286.06,760.34 Z" fill="#ec97ec"/><text x="416.5" y="730.2" text-anchor="middle" font-size="32.5" fill="#fff">Shortage</text><line x1="542" y1="733" x2="623.7" y2="733" stroke="#989d9d" stroke-width="1.45"/><path d="M631.5,733 L623.7,737.7 L623.7,728.3 Z" fill="#8e9393"/><rect x="632" y="675.5" width="236" height="115" rx="3" fill="#fa96d9"/><text x="745.5" y="719.8" text-anchor="middle" font-size="32.5" fill="#fff">Budget</text><text x="750" y="756.5" text-anchor="middle" font-size="32.5" fill="#fff">Preparation</text><line x1="868" y1="733" x2="960.1" y2="733" stroke="#989d9d" stroke-width="1.45"/><path d="M967.9,733 L960.1,737.7 L960.1,728.3 Z" fill="#8e9393"/><path d="M1069,632 L1170,733 L1069,834 L968,733 Z" fill="#abbbfa"/><text x="1064.5" y="742.5" text-anchor="middle" font-size="32.5" fill="#fff">Budget</text>
<g fill="#000" fill-opacity="0.055"><g transform="translate(269.4 296.3) rotate(-11.6)"><text x="-7.5" y="0" font-size="100" textLength="314.4" lengthAdjust="spacingAndGlyphs">rCloud</text><text x="325.15" y="0" font-size="100" textLength="431.3" lengthAdjust="spacingAndGlyphs">Softwares</text></g><g transform="translate(859.6 526.2) rotate(-11.6)"><text x="-7.5" y="0" font-size="100" textLength="314.4" lengthAdjust="spacingAndGlyphs">rCloud</text><text x="325.15" y="0" font-size="100" textLength="431.3" lengthAdjust="spacingAndGlyphs">Softwares</text></g><g transform="translate(-136.2 733.5) rotate(-11.6)"><text x="-7.5" y="0" font-size="100" textLength="314.4" lengthAdjust="spacingAndGlyphs">rCloud</text><text x="325.15" y="0" font-size="100" textLength="431.3" lengthAdjust="spacingAndGlyphs">Softwares</text></g><g transform="translate(419.4 1012.3) rotate(-11.6)"><text x="-7.5" y="0" font-size="100" textLength="314.4" lengthAdjust="spacingAndGlyphs">rCloud</text><text x="325.15" y="0" font-size="100" textLength="431.3" lengthAdjust="spacingAndGlyphs">Softwares</text></g><g transform="translate(1416.3 808.4) rotate(-11.6)"><text x="-7.5" y="0" font-size="100" textLength="314.4" lengthAdjust="spacingAndGlyphs">rCloud</text><text x="325.15" y="0" font-size="100" textLength="431.3" lengthAdjust="spacingAndGlyphs">Softwares</text></g><g transform="translate(1270.5 90.3) rotate(-11.6)"><text x="-7.5" y="0" font-size="100" textLength="314.4" lengthAdjust="spacingAndGlyphs">rCloud</text><text x="325.15" y="0" font-size="100" textLength="431.3" lengthAdjust="spacingAndGlyphs">Softwares</text></g><g transform="translate(-574.4 1224.3) rotate(-11.6)"><text x="-7.5" y="0" font-size="100" textLength="314.4" lengthAdjust="spacingAndGlyphs">rCloud</text><text x="325.15" y="0" font-size="100" textLength="431.3" lengthAdjust="spacingAndGlyphs">Softwares</text></g><g transform="translate(-724.3 508.4) rotate(-11.6)"><text x="-7.5" y="0" font-size="100" textLength="314.4" lengthAdjust="spacingAndGlyphs">rCloud</text><text x="325.15" y="0" font-size="100" textLength="431.3" lengthAdjust="spacingAndGlyphs">Softwares</text></g></g>
<rect x="0" y="0" width="1600" height="1" fill="url(#bdt)"/>
<rect x="1599" y="0" width="1" height="1067" fill="url(#bdr)"/>
<rect x="0" y="0" width="1" height="1067" fill="url(#bdl)"/>
<rect x="0" y="1066" width="1600" height="1" fill="url(#bdb)"/>
</svg>
</body></html>
